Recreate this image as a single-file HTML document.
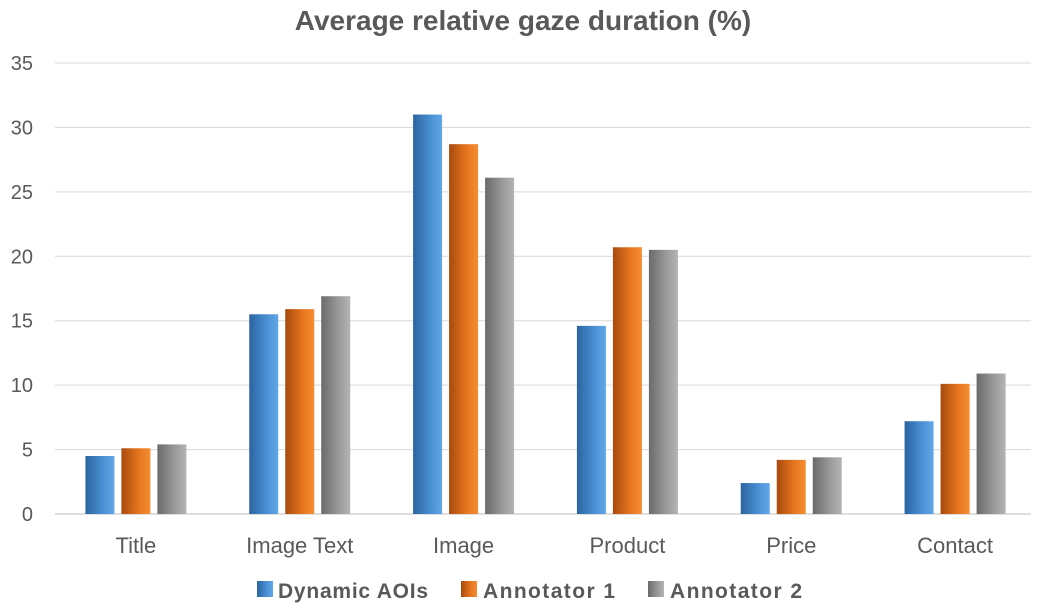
<!DOCTYPE html>
<html><head><meta charset="utf-8"><style>
body{margin:0;background:#fff;}
svg text{font-family:"Liberation Sans",sans-serif;fill:#595959;}
</style></head><body>
<svg width="1041" height="608">
<defs>
<linearGradient id="gb" x1="0" x2="1"><stop offset="0" stop-color="#2b64a0"/><stop offset="0.6" stop-color="#4a90d4"/><stop offset="1" stop-color="#62a8e6"/></linearGradient>
<linearGradient id="go" x1="0" x2="1"><stop offset="0" stop-color="#a84a0c"/><stop offset="0.6" stop-color="#e6761f"/><stop offset="1" stop-color="#f58e32"/></linearGradient>
<linearGradient id="gg" x1="0" x2="1"><stop offset="0" stop-color="#6a6a6a"/><stop offset="0.6" stop-color="#9a9a9a"/><stop offset="1" stop-color="#b4b4b4"/></linearGradient>
</defs>
<text x="523" y="30" text-anchor="middle" font-size="28" font-weight="bold">Average relative gaze duration (%)</text>
<g id="grid"></g><g id="bars"></g><g id="labels"></g>
<g>
<rect x="257" y="581" width="16" height="16" fill="url(#gb)"/>
<text x="278" y="598" font-size="21" font-weight="bold" textLength="150">Dynamic AOIs</text>
<rect x="461" y="581" width="16" height="16" fill="url(#go)"/>
<text x="483" y="598" font-size="21" font-weight="bold" textLength="132">Annotator 1</text>
<rect x="648" y="581" width="16" height="16" fill="url(#gg)"/>
<text x="670" y="598" font-size="21" font-weight="bold" textLength="132">Annotator 2</text>
</g>
</svg>
<script>
const categories=["Title","Image Text","Image","Product","Price","Contact"];
const dynamicAOIs=[4.5,15.5,31.0,14.6,2.4,7.2];
const annotator1=[5.1,15.9,28.7,20.7,4.2,10.1];
const annotator2=[5.4,16.9,26.1,20.5,4.4,10.9];
const yTicks=[0,5,10,15,20,25,30,35];
const NS="http://www.w3.org/2000/svg";
const x0=54,x1=1037,yB=514,yT=63,yMax=35;
const y=v=>yB-(v/yMax)*(yB-yT);
const bw=(x1-x0)/categories.length;
const cx=i=>x0+bw*(i+0.5);
function mk(t,a){const e=document.createElementNS(NS,t);for(const k in a)e.setAttribute(k,a[k]);return e;}
const grid=document.getElementById('grid'),bars=document.getElementById('bars'),labels=document.getElementById('labels');
yTicks.forEach(t=>{
 const l=mk('line',{x1:55,x2:1031,y1:y(t),y2:y(t),stroke:t===0?'#bfbfbf':'#d9d9d9','stroke-width':1});
 
 
 grid.appendChild(l);
 const tx=mk('text',{x:33,y:y(t)+7,'text-anchor':'end','font-size':20});
 tx.textContent=t;
 
 
 labels.appendChild(tx);
});
const series=[[dynamicAOIs,'url(#gb)','dynamic'],[annotator1,'url(#go)','annotator1'],[annotator2,'url(#gg)','annotator2']];
categories.forEach((c,i)=>{
 series.forEach((s,j)=>{
  const v=s[0][i];
  const r=mk('rect',{x:cx(i)-14.5+(j-1)*36,y:y(v),width:29,height:yB-y(v),fill:s[1]});
  
  
  bars.appendChild(r);
 });
 const t=mk('text',{x:cx(i),y:553,'text-anchor':'middle','font-size':22});
 t.textContent=c;
 
 
 labels.appendChild(t);
});
</script>
</body></html>
